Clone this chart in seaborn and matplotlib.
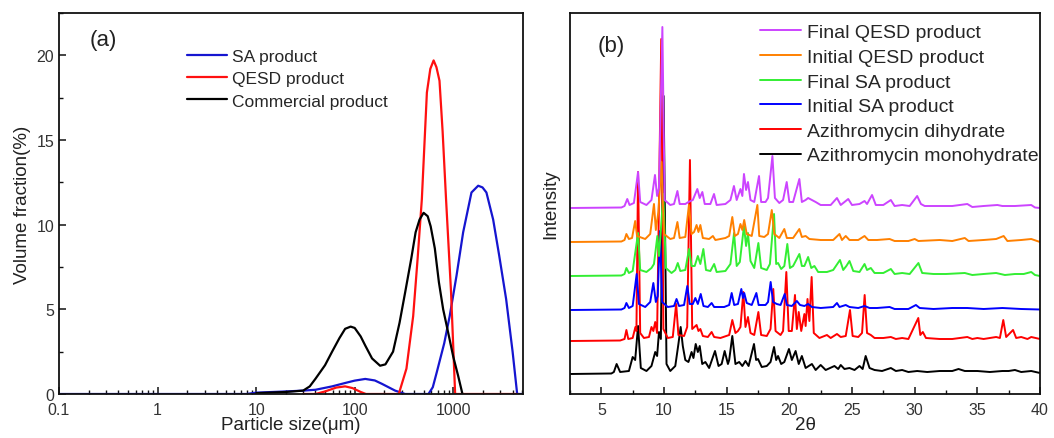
import numpy as np
import pandas as pd
import matplotlib
matplotlib.use("Agg")
import matplotlib.pyplot as plt
import seaborn as sns
from matplotlib.ticker import LogLocator, MultipleLocator, NullFormatter, FixedLocator

# ---- (a) particle size distributions ----
sa_size = [0.1, 8, 10, 20, 30, 40, 59, 80, 100, 128, 160, 189, 257, 325, 560, 620, 680, 810,
           920, 1080, 1260, 1530, 1790, 1980, 2170, 2540, 2920, 3440, 4000, 4450, 5100]
sa_vf = [0, 0, 0.08, 0.15, 0.2, 0.25, 0.45, 0.65, 0.79, 0.89, 0.8, 0.6, 0.2, 0, 0, 0.4, 1.28, 3.0,
         4.6, 7.0, 9.55, 11.9, 12.3, 12.2, 11.9, 10.3, 8.2, 5.6, 2.5, 0, 0]

qesd_size = [30, 40, 50, 65, 80, 95, 115, 130, 280, 335, 392, 435, 480, 540, 585, 632, 675,
             725, 780, 845, 950, 1045, 4450]
qesd_vf = [0, 0, 0.15, 0.38, 0.45, 0.35, 0.12, 0, 0, 1.5, 4.6, 8.0, 11.5, 17.8, 19.2, 19.7, 19.3,
           18.5, 15.5, 11.5, 6.0, 0, 0]

com_size = [10, 20, 30, 35, 40, 50, 59, 70, 80, 91, 100, 115, 128, 150, 181, 205, 245, 285, 325,
            375, 415, 455, 500, 550, 590, 650, 715, 790, 890, 1000, 1120, 1240]
com_vf = [0.05, 0.12, 0.2, 0.45, 0.9, 1.7, 2.5, 3.3, 3.85, 3.98, 3.9, 3.4, 2.86, 2.1, 1.67, 1.75,
          2.5, 4.2, 6.0, 8.0, 9.55, 10.3, 10.7, 10.5, 9.9, 8.6, 6.6, 5.0, 3.6, 2.2, 1.08, 0]

psd_labels = ["SA product", "QESD product", "Commercial product"]

# ---- (b) XRD patterns: (2theta, intensity above own baseline) ----
mono = [(2.5, 0), (5.8, 0.5), (6.0, 2), (6.22, 10), (6.5, 2), (7.2, 3), (7.5, 17), (7.7, 14), (7.93, 48),
        (8.15, 6), (8.6, 3), (9.0, 8), (9.3, 22), (9.45, 18), (9.6, 42), (9.75, 35), (9.97, 278),
        (10.2, 10), (10.5, 3), (10.9, 8), (11.15, 30), (11.33, 47), (11.5, 28), (11.7, 14), (11.95, 12),
        (12.2, 22), (12.35, 16), (12.53, 30), (12.7, 22), (12.85, 28), (13.05, 10), (13.3, 12), (13.6, 6),
        (14.07, 23), (14.35, 8), (14.6, 10), (14.84, 23), (15.1, 10), (15.2, 14), (15.45, 38), (15.7, 10),
        (16.0, 12), (16.25, 8), (16.5, 13), (16.75, 8), (17.18, 30), (17.35, 14), (17.5, 15), (17.8, 7),
        (18.2, 8), (18.5, 12), (18.78, 27), (18.95, 14), (19.1, 18), (19.35, 10), (19.6, 12), (19.97, 25),
        (20.2, 14), (20.5, 23), (20.75, 10), (21.0, 18), (21.3, 6), (21.8, 10), (22.1, 4), (22.5, 9),
        (22.9, 4), (23.6, 8), (23.9, 5), (24.1, 9), (24.4, 5), (24.8, 6), (25.2, 4), (25.6, 8), (25.85, 5),
        (26.09, 18), (26.4, 6), (26.8, 4), (27.4, 3), (28.1, 6), (28.5, 3), (29.0, 4), (29.5, 2), (30.2, 3),
        (31.0, 2), (32.0, 3), (33.0, 3), (33.5, 5), (34.0, 3), (35.0, 3), (36.0, 2), (37.0, 3), (37.5, 3),
        (38.0, 4), (38.5, 2), (39.3, 3), (40, 1)]

dihyd = [(2.5, 0), (6.5, 0.5), (6.85, 2), (7.0, 11), (7.15, 2), (7.5, 3), (7.72, 14), (7.8, 10), (7.93, 169),
         (8.1, 8), (8.4, 3), (8.8, 4), (9.0, 14), (9.15, 10), (9.3, 19), (9.45, 8), (9.78, 302), (9.95, 12),
         (10.3, 3), (10.7, 4), (10.97, 37), (11.15, 6), (11.6, 5), (11.85, 14), (12.07, 181), (12.25, 12),
         (12.6, 16), (12.75, 10), (12.9, 12), (13.1, 5), (13.5, 4), (13.8, 9), (14.0, 4), (14.5, 3), (15.2, 6),
         (15.45, 21), (15.7, 8), (15.9, 10), (16.1, 14), (16.33, 49), (16.5, 14), (16.7, 24), (16.9, 8),
         (17.2, 6), (17.53, 29), (17.75, 6), (18.2, 5), (18.5, 12), (18.72, 52), (18.9, 10), (19.3, 6),
         (19.5, 10), (19.76, 69), (19.95, 10), (20.2, 10), (20.45, 46), (20.6, 12), (20.75, 29), (20.95, 10),
         (21.2, 27), (21.3, 15), (21.45, 42), (21.6, 20), (21.78, 64), (21.95, 8), (22.4, 3), (23.0, 6),
         (23.3, 3), (23.8, 7), (24.1, 4), (24.5, 5), (24.84, 31), (25.05, 5), (25.5, 4), (25.8, 8),
         (26.01, 46), (26.2, 8), (26.5, 6), (26.8, 3), (27.5, 3), (28.1, 4), (28.5, 2), (29.0, 3), (29.5, 2),
         (30.29, 23), (30.45, 6), (30.65, 9), (30.9, 3), (32, 2), (33, 2), (34.2, 4), (34.6, 2), (35.0, 3),
         (35.5, 2), (36.5, 4), (36.8, 3), (37.07, 21), (37.3, 4), (37.85, 11), (38.1, 3), (38.5, 4), (39.0, 2),
         (39.3, 4), (40, 2)]

init_sa = [(2.5, 0), (6.6, 0.5), (6.85, 2), (7.0, 7), (7.2, 2), (7.5, 4), (7.82, 36), (8.0, 6), (8.5, 3),
           (8.9, 8), (9.15, 27), (9.35, 8), (9.5, 14), (9.68, 79), (9.85, 8), (10.3, 3), (10.8, 4), (11.0, 11),
           (11.2, 4), (11.6, 5), (11.86, 24), (12.05, 6), (12.3, 6), (12.5, 12), (12.7, 6), (12.93, 16),
           (13.15, 4), (13.5, 3), (13.8, 7), (14.0, 3), (14.8, 3), (15.2, 5), (15.4, 17), (15.6, 5), (15.9, 6),
           (16.17, 21), (16.3, 12), (16.4, 17), (16.6, 7), (17.0, 5), (17.37, 17), (17.55, 5), (18.1, 5),
           (18.3, 8), (18.51, 28), (18.7, 8), (19.0, 6), (19.3, 5), (19.63, 16), (19.8, 5), (20.2, 4),
           (20.6, 9), (20.85, 5), (21.2, 4), (21.5, 6), (21.8, 3), (22.5, 2), (23.5, 3), (23.8, 7), (24.0, 3),
           (24.5, 5), (24.8, 3), (25.5, 2), (26.0, 4), (26.4, 2), (27.0, 2), (28.0, 3), (28.4, 1), (29.5, 1),
           (30.1, 5), (30.4, 2), (31.5, 1), (33, 2), (34.2, 2), (35.5, 1), (37, 2), (38.5, 1), (40, 0.5)]

final_sa = [(2.5, 0), (6.6, 0.5), (6.85, 2), (7.0, 8), (7.2, 3), (7.5, 5), (7.93, 43), (8.1, 6), (8.6, 4),
            (9.0, 8), (9.2, 12), (9.47, 40), (9.6, 20), (9.95, 82), (10.15, 8), (10.6, 3), (10.9, 6),
            (11.1, 13), (11.3, 5), (11.7, 6), (12.0, 27), (12.2, 10), (12.45, 10), (12.7, 20), (12.9, 12),
            (13.14, 27), (13.35, 6), (13.7, 5), (14.0, 12), (14.2, 4), (14.9, 5), (15.3, 12), (15.59, 43),
            (15.8, 10), (16.05, 14), (16.38, 50), (16.55, 30), (16.7, 43), (16.9, 15), (17.2, 8), (17.53, 33),
            (17.75, 8), (18.2, 6), (18.45, 12), (18.78, 62), (18.95, 12), (19.1, 13), (19.35, 7), (19.6, 10),
            (19.84, 32), (20.05, 8), (20.3, 10), (20.8, 22), (21.0, 10), (21.2, 10), (21.5, 19), (21.75, 8),
            (22.0, 10), (22.3, 4), (23.0, 4), (23.5, 6), (24.04, 16), (24.3, 6), (24.55, 10), (24.8, 15),
            (25.1, 5), (25.6, 4), (26.0, 12), (26.2, 6), (26.5, 8), (26.8, 3), (27.5, 3), (28.1, 7), (28.4, 2),
            (29.0, 3), (29.6, 2), (30.3, 13), (30.6, 3), (31.5, 2), (32.5, 2), (34.0, 3), (34.6, 1), (35.5, 2),
            (36.5, 3), (37.2, 1), (38.0, 2), (38.7, 2), (39.3, 4), (39.6, 1), (40, 0)]

init_qesd = [(2.5, 0), (6.6, 0.5), (6.85, 2), (7.0, 8), (7.2, 3), (7.45, 4), (7.7, 21), (7.85, 6), (8.5, 3),
             (8.9, 8), (9.2, 38), (9.35, 12), (9.55, 30), (9.8, 80), (10.0, 8), (10.5, 3), (10.8, 4),
             (11.07, 20), (11.25, 4), (11.7, 5), (11.99, 37), (12.2, 8), (12.4, 10), (12.6, 17), (12.75, 10),
             (12.9, 17), (13.1, 4), (13.6, 3), (13.9, 6), (14.1, 2), (14.9, 4), (15.2, 6), (15.45, 25),
             (15.65, 6), (15.9, 8), (16.1, 18), (16.25, 12), (16.4, 22), (16.6, 8), (17.0, 6), (17.45, 37),
             (17.6, 6), (18.0, 5), (18.3, 8), (18.6, 32), (18.8, 8), (19.2, 4), (19.6, 13), (19.8, 4),
             (20.3, 4), (20.8, 13), (21.0, 5), (21.3, 6), (21.6, 3), (22.5, 2), (23.5, 2), (24.0, 8), (24.2, 2),
             (24.5, 6), (24.8, 2), (25.5, 2), (26.0, 6), (26.3, 2), (27, 2), (28, 3), (28.4, 1), (29.5, 1),
             (30.0, 3), (30.3, 1), (32, 2), (33, 1), (34.0, 4), (34.3, 1), (35.5, 2), (36.5, 3), (37.1, 6),
             (37.4, 1), (38.5, 2), (39.3, 3), (40, 0)]

final_qesd = [(2.5, 0), (6.6, 0.5), (6.85, 2), (7.07, 9), (7.25, 3), (7.6, 5), (7.93, 36), (8.1, 6),
              (8.6, 3), (9.0, 8), (9.28, 33), (9.45, 12), (9.6, 20), (9.87, 181), (10.05, 8), (10.5, 3),
              (10.8, 4), (11.07, 17), (11.25, 4), (11.7, 4), (11.95, 6), (12.3, 8), (12.66, 19), (12.85, 10),
              (13.06, 16), (13.25, 4), (13.7, 4), (13.99, 14), (14.2, 3), (14.9, 4), (15.3, 8), (15.58, 22),
              (15.8, 8), (16.1, 19), (16.25, 12), (16.38, 34), (16.55, 18), (16.7, 26), (16.9, 8), (17.2, 6),
              (17.58, 32), (17.75, 6), (18.1, 6), (18.3, 10), (18.65, 52), (18.85, 10), (19.2, 5), (19.5, 8),
              (19.79, 26), (20.0, 6), (20.3, 6), (20.8, 29), (21.0, 6), (21.3, 8), (21.5, 10), (21.8, 8),
              (22.1, 6), (22.5, 3), (23.3, 3), (23.8, 10), (24.1, 3), (24.4, 6), (24.7, 9), (25.0, 3), (25.6, 4),
              (26.0, 7), (26.2, 4), (26.6, 13), (26.9, 3), (27.5, 3), (28.1, 8), (28.4, 2), (29.0, 3), (29.6, 2),
              (30.2, 12), (30.5, 4), (30.8, 2), (32, 2), (33, 2), (34.2, 4), (34.6, 1), (35.5, 2), (36.6, 3),
              (37.0, 2), (38.0, 2), (39.3, 3), (39.6, 0.5), (40, 0)]

xrd_labels = ["Final QESD product", "Initial QESD product", "Final SA product",
              "Initial SA product", "Azithromycin dihydrate", "Azithromycin monohydrate"]
xrd_traces = [final_qesd, init_qesd, final_sa, init_sa, dihyd, mono]
xrd_offsets = [186, 152, 118, 84, 53, 20]
xrd_colors = ["#cc44ff", "#ff8000", "#33ee33", "#0000ff", "#ff0000", "#000000"]

sns.set_style("ticks")
plt.rcParams["font.family"] = ["Liberation Sans", "DejaVu Sans"]
plt.rcParams["axes.linewidth"] = 1.3

fig = plt.figure(figsize=(10.54, 4.39), dpi=100)
ax1 = fig.add_axes([59 / 1054, 44 / 439, 464 / 1054, 381 / 439])
ax2 = fig.add_axes([570 / 1054, 44 / 439, 470 / 1054, 381 / 439])

tick_col = "#333333"

# panel (a)
psd = [(sa_size, sa_vf, "#1515d0"), (qesd_size, qesd_vf, "#ff1010"), (com_size, com_vf, "#000000")]
for (s, v, c), lab in zip(psd, psd_labels):
    df = pd.DataFrame({"size": s, "vf": v})
    sns.lineplot(data=df, x="size", y="vf", ax=ax1, color=c, lw=1.6, sort=False,
                 estimator=None, label=lab)
ax1.set_xscale("log")
ax1.set_xlim(0.1, 5100)
ax1.set_ylim(0, 22.5)
ax1.xaxis.set_major_locator(FixedLocator([0.1, 1, 10, 100, 1000]))
ax1.set_xticklabels(["0.1", "1", "10", "100", "1000"])
ax1.xaxis.set_minor_locator(LogLocator(base=10, subs=np.arange(2, 10), numticks=20))
ax1.xaxis.set_minor_formatter(NullFormatter())
ax1.yaxis.set_major_locator(MultipleLocator(5))
ax1.yaxis.set_minor_locator(MultipleLocator(2.5))
ax1.set_xlabel("Particle size(μm)", fontsize=13.5, color="#222222", labelpad=-1)
ax1.set_ylabel("Volume fraction(%)", fontsize=13.5, color="#222222", labelpad=4)
ax1.text(0.065, 0.915, "(a)", transform=ax1.transAxes, fontsize=16, color="#222222")
ax1.legend(loc="upper left", bbox_to_anchor=(0.276, 0.905), frameon=False, fontsize=12.5,
           handlelength=2.3, handletextpad=0.3, labelspacing=0.4, borderpad=0, borderaxespad=0)

# panel (b)
for trace, off, col, lab in list(zip(xrd_traces, xrd_offsets, xrd_colors, xrd_labels))[::-1]:
    df = pd.DataFrame(trace, columns=["two_theta", "intensity"])
    df["intensity"] = df["intensity"] + off
    sns.lineplot(data=df, x="two_theta", y="intensity", ax=ax2, color=col, lw=1.4, sort=False,
                 estimator=None, label=lab)
ax2.set_xlim(2.5, 40)
ax2.set_ylim(0, 381)
ax2.xaxis.set_major_locator(MultipleLocator(5))
ax2.xaxis.set_minor_locator(MultipleLocator(2.5))
ax2.set_yticks([])
ax2.set_xlabel("2θ", fontsize=13.5, color="#222222", labelpad=-1)
ax2.set_ylabel("Intensity", fontsize=13.5, color="#222222", labelpad=8)
ax2.text(0.058, 0.9, "(b)", transform=ax2.transAxes, fontsize=16, color="#222222")
h, l = ax2.get_legend_handles_labels()
ax2.legend(h[::-1], l[::-1], loc="upper left", bbox_to_anchor=(0.404, 0.972), frameon=False,
           fontsize=14, handlelength=2.1, handletextpad=0.3, labelspacing=0.36, borderpad=0,
           borderaxespad=0)

for ax in (ax1, ax2):
    for sp in ax.spines.values():
        sp.set_visible(True)
        sp.set_color("#111111")
    ax.tick_params(which="major", direction="in", length=5, width=1.1, labelsize=11.5,
                   colors="#111111", labelcolor=tick_col, top=False, right=False)
    ax.tick_params(which="minor", direction="in", length=3, width=1.0, colors="#111111",
                   top=False, right=False)
    ax.tick_params(axis="x", which="major", pad=6)

fig.savefig("out.png", dpi=100)
